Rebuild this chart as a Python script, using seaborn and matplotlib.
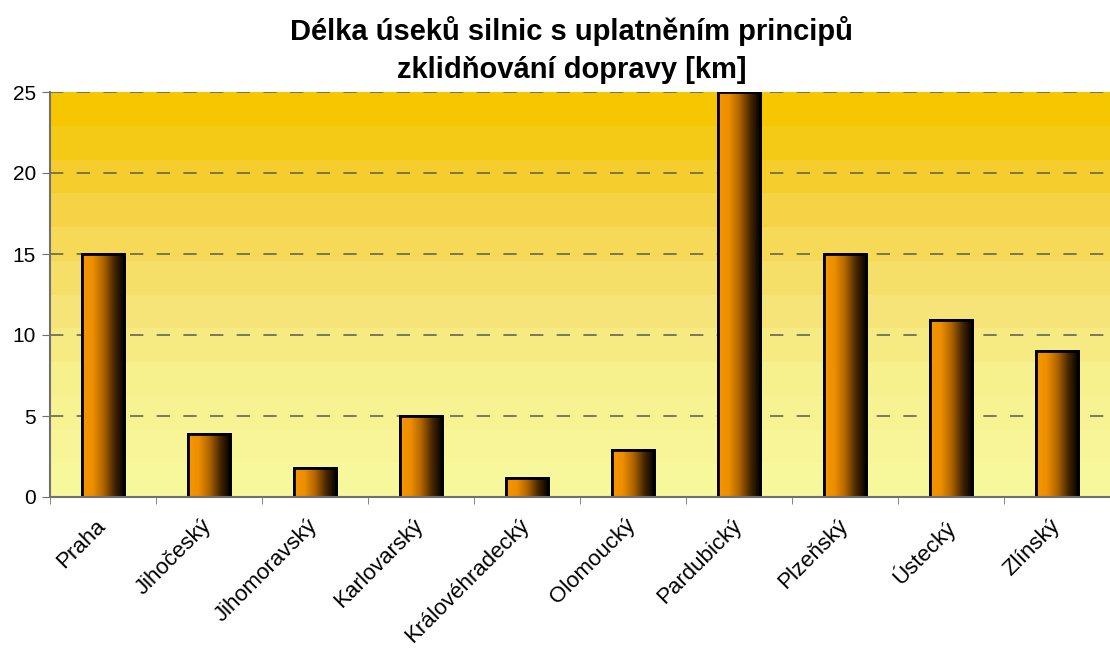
import numpy as np
import pandas as pd
import matplotlib
matplotlib.use("Agg")
import matplotlib.pyplot as plt
import matplotlib.transforms as mtransforms
import seaborn as sns
from matplotlib.colors import LinearSegmentedColormap

regions = ["Praha", "Jihočeský", "Jihomoravský", "Karlovarský", "Královéhradecký",
           "Olomoucký", "Pardubický", "Plzeňský", "Ústecký", "Zlínský"]
lengths_km = [15, 3.9, 1.8, 5, 1.2, 2.9, 25, 15, 10.9, 9.0]
y_ticks = [0, 5, 10, 15, 20, 25]
title = "Délka úseků silnic s uplatněním principů\nzklidňování dopravy [km]"

df = pd.DataFrame({"kraj": regions, "km": lengths_km})

sns.set_style("white")
plt.rcParams["font.family"] = ["Liberation Sans", "DejaVu Sans"]
plt.rcParams["text.color"] = "black"
plt.rcParams["xtick.color"] = "black"
plt.rcParams["ytick.color"] = "black"

fig = plt.figure(figsize=(11.1, 6.48), dpi=100)
ax = fig.add_axes([50 / 1110, 151 / 648, 1060 / 1110, 405 / 648])

ax = sns.barplot(data=df, x="kraj", y="km", color="#F59300", width=0.4,
                 edgecolor="black", linewidth=2, ax=ax, zorder=3)

ax.set_xlim(-0.5, len(regions) - 0.5)
ax.set_ylim(0, 25)

# background: vertical yellow gradient, banded like the original
bg = LinearSegmentedColormap.from_list("bg", ["#F7F79C", "#F7F290", "#F6E273", "#F5D240", "#F6C600"])
grad = np.linspace(0, 1, 12)[:, None]
ax.imshow(grad, cmap=bg, aspect="auto", origin="lower",
          extent=(-0.5, len(regions) - 0.5, 0, 25), zorder=0, interpolation="nearest")

# horizontal gradient inside each bar
bar_cmap = LinearSegmentedColormap.from_list("bar", ["#F79600", "#EC8E00", "#B06400", "#4A2800", "#000000"])
hgrad = np.linspace(0, 1, 64)[None, :]
for p in ax.patches:
    x0, w, h = p.get_x(), p.get_width(), p.get_height()
    im = ax.imshow(hgrad, cmap=bar_cmap, aspect="auto",
                   extent=(x0, x0 + w, 0, h), zorder=3.5)
    im.set_clip_path(p)
    ax.add_patch(plt.Rectangle((x0, 0), w, h, fill=False, edgecolor="black",
                               linewidth=2, zorder=4))

ax.set_yticks(y_ticks)
ax.set_yticklabels([str(v) for v in y_ticks], fontsize=15)
for v in y_ticks[1:]:
    ax.axhline(v, color="#666650", linestyle=(0, (8, 8)), linewidth=1.2, zorder=2)

# category ticks at boundaries
ax.set_xticks(np.arange(len(regions)))
ax.set_xticklabels(regions, rotation=45, ha="right", rotation_mode="anchor", fontsize=16)
ax.tick_params(axis="x", length=0, pad=13)
shift = mtransforms.ScaledTranslation(-8 / 100, 0, fig.dpi_scale_trans)
for lab in ax.get_xticklabels():
    lab.set_transform(lab.get_transform() + shift)
ax.set_xticks(np.arange(len(regions) + 1) - 0.5, minor=True)
ax.tick_params(axis="x", which="minor", length=5, color="#707070", direction="out", bottom=True)
ax.tick_params(axis="y", length=6, color="#707070", direction="out", left=True, pad=4)

ax.set_xlabel("")
ax.set_ylabel("")
for s in ["top", "right"]:
    ax.spines[s].set_visible(False)
for s in ["left", "bottom"]:
    ax.spines[s].set_color("#707070")
    ax.spines[s].set_linewidth(1.5)
    ax.spines[s].set_zorder(5)

fig.suptitle(title, fontsize=21, fontweight="bold", x=0.515, y=0.975, linespacing=1.45)

fig.savefig("out.png", dpi=100)
